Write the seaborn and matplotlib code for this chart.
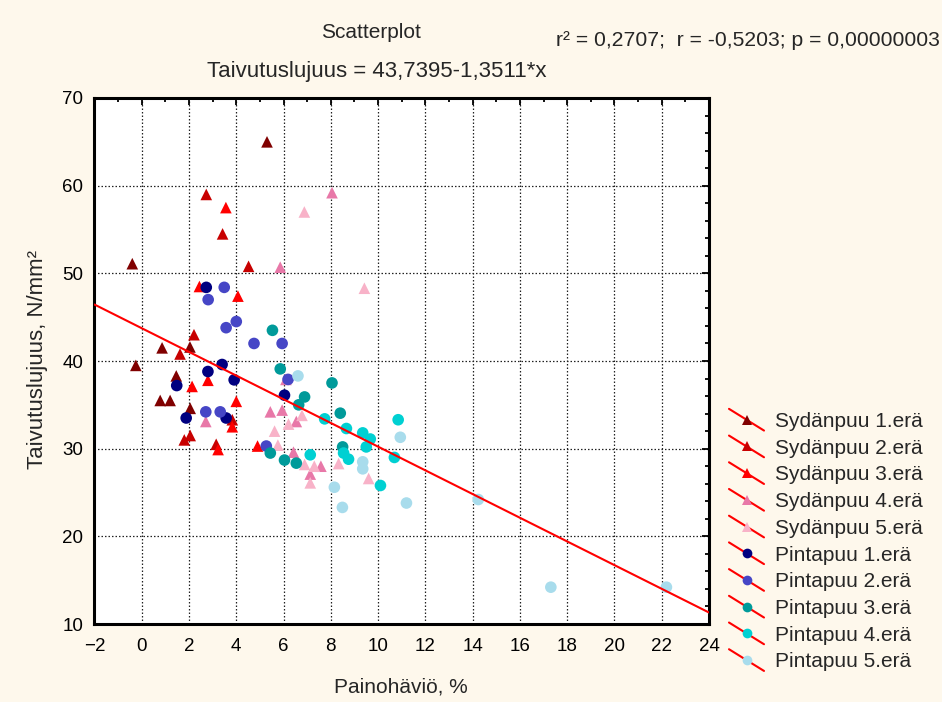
import numpy as np
import pandas as pd
import matplotlib
matplotlib.use("Agg")
import matplotlib.pyplot as plt
import seaborn as sns
from matplotlib.lines import Line2D
from matplotlib.legend_handler import HandlerBase
from matplotlib.ticker import MultipleLocator

# ---- data: weight loss (%) vs bending strength (N/mm2) per batch ----
syd1_x = [5.3, -0.4, -0.25, 0.86, 1.46, 0.78, 1.2, 2.05, 2.04]
syd1_y = [65.0, 51.1, 39.5, 41.5, 38.3, 35.5, 35.5, 34.6, 41.6]
syd2_x = [2.73, 3.42, 4.52, 2.21, 1.62, 1.8, 2.05, 3.15, 3.83]
syd2_y = [59.0, 54.5, 50.8, 43.0, 40.8, 31.0, 31.5, 30.5, 33.3]
syd3_x = [3.56, 4.07, 2.44, 2.8, 2.13, 4.0, 3.83, 3.23, 4.9]
syd3_y = [57.5, 47.4, 48.5, 37.8, 37.1, 35.4, 32.5, 29.9, 30.3]
syd4_x = [8.05, 5.86, 2.71, 5.44, 5.94, 6.54, 6.42, 7.13, 7.58, 6.1]
syd4_y = [59.2, 50.7, 33.1, 34.2, 34.4, 33.1, 29.6, 27.1, 28.0, 37.9]
syd5_x = [6.88, 9.42, 6.78, 6.21, 5.62, 5.76, 6.89, 7.3, 7.13, 8.33, 9.6]
syd5_y = [57.0, 48.3, 33.8, 32.8, 32.0, 30.4, 28.2, 28.0, 26.1, 28.3, 26.6]
pinta1_x = [2.73, 2.8, 3.4, 3.91, 1.48, 1.88, 3.57, 6.04]
pinta1_y = [48.4, 38.8, 39.6, 37.85, 37.2, 33.5, 33.5, 36.1]
pinta2_x = [2.81, 3.49, 4.0, 3.57, 4.75, 5.94, 2.71, 3.32, 6.19, 5.27]
pinta2_y = [47.0, 48.4, 44.5, 43.8, 42.0, 42.0, 34.2, 34.2, 37.9, 30.3]
pinta3_x = [5.53, 5.86, 6.89, 6.64, 5.44, 6.04, 6.54, 8.05, 8.4, 8.5]
pinta3_y = [43.5, 39.1, 35.9, 35.0, 29.5, 28.7, 28.35, 37.5, 34.05, 30.2]
pinta4_x = [7.74, 8.66, 9.35, 9.67, 9.5, 7.13, 8.54, 8.75, 10.85, 10.69, 10.1]
pinta4_y = [33.4, 32.3, 31.8, 31.1, 30.2, 29.3, 29.5, 28.8, 33.3, 29.0, 25.8]
pinta5_x = [6.61, 10.94, 9.35, 9.35, 8.15, 8.49, 11.2, 14.24, 17.31, 22.2]
pinta5_y = [38.3, 31.3, 28.5, 27.7, 25.6, 23.3, 23.8, 24.2, 14.2, 14.2]

groups = ["Sydänpuu 1.erä", "Sydänpuu 2.erä", "Sydänpuu 3.erä",
          "Sydänpuu 4.erä", "Sydänpuu 5.erä",
          "Pintapuu 1.erä", "Pintapuu 2.erä", "Pintapuu 3.erä",
          "Pintapuu 4.erä", "Pintapuu 5.erä"]
group_x = [syd1_x, syd2_x, syd3_x, syd4_x, syd5_x,
           pinta1_x, pinta2_x, pinta3_x, pinta4_x, pinta5_x]
group_y = [syd1_y, syd2_y, syd3_y, syd4_y, syd5_y,
           pinta1_y, pinta2_y, pinta3_y, pinta4_y, pinta5_y]

# linear fit reported for the whole data set
INTERCEPT = 43.7395
SLOPE = -1.3511
fit_x = np.array([-2.0, 24.0])

x_ticks = list(range(-2, 25, 2))
y_ticks = list(range(10, 71, 10))

# ---- styling ----
colors = ["#800000", "#C80000", "#FF0000", "#E878A8", "#F8B2C8",
          "#000080", "#4646C6", "#009A9A", "#00D0D2", "#A8DCEC"]
shapes = ["^"] * 5 + ["o"] * 5
palette = dict(zip(groups, colors))
markers = dict(zip(groups, shapes))
BG = "#FEF8EC"

sns.set_theme(style="white")
plt.rcParams["font.family"] = ["Liberation Sans", "DejaVu Sans"]

df = pd.concat(
    [pd.DataFrame({"x": gx, "y": gy, "group": g})
     for g, gx, gy in zip(groups, group_x, group_y)],
    ignore_index=True)

fig = plt.figure(figsize=(9.42, 7.02), dpi=100, facecolor=BG)
ax = fig.add_axes([0.1003, 0.1111, 0.6523, 0.7493])
ax.set_facecolor("white")

sns.scatterplot(data=df, x="x", y="y", hue="group", style="group",
                palette=palette, markers=markers, hue_order=groups,
                style_order=groups, s=70, linewidth=0, legend=False,
                ax=ax, zorder=3)

ax.plot(fit_x, INTERCEPT + SLOPE * fit_x, color="red", lw=1.5, zorder=4)

ax.set_xlim(-2, 24)
ax.set_ylim(10, 70)
ax.set_xticks(x_ticks)
ax.set_yticks(y_ticks)
ax.xaxis.set_minor_locator(MultipleLocator(1))
ax.yaxis.set_minor_locator(MultipleLocator(2))
ax.grid(True, which="major", color="#222222", linestyle=(0, (1.2, 1.6)),
        linewidth=0.9, zorder=1)
ax.set_axisbelow(True)
ax.tick_params(which="both", direction="in", top=True, right=True,
               width=1.3, color="black", labelsize=13.5, labelcolor="black")
ax.tick_params(which="major", length=5)
ax.tick_params(which="minor", length=3)
ax.tick_params(axis="x", pad=10)
ax.tick_params(axis="y", pad=8)
for sp in ax.spines.values():
    sp.set_visible(True)
    sp.set_color("black")
    sp.set_linewidth(2.2)
ax.set_xlabel("")
ax.set_ylabel("")

W, H = 942.0, 702.0
fig.text(401 / W, 1 - 687 / H, "Painohäviö, %", ha="center", va="center",
         fontsize=15)
fig.text(38 / W, 1 - 360 / H, "Taivutuslujuus, N/mm²", ha="center",
         va="center", rotation=90, fontsize=16)
fig.text(371 / W, 1 - 33 / H, "Scatterplot", ha="center", va="center",
         fontsize=15)
fig.text(377 / W, 1 - 72 / H, "Taivutuslujuus = 43,7395-1,3511*x",
         ha="center", va="center", fontsize=16)
fig.text(748 / W, 1 - 40 / H, "r² = 0,2707;  r = -0,5203; p = 0,00000003",
         ha="center", va="center", fontsize=15.2)


class SlopedHandler(HandlerBase):
    """Legend key: the fitted line drawn sloping down with the group marker."""

    def create_artists(self, legend, orig_handle, xdescent, ydescent,
                       width, height, fontsize, trans):
        x0 = -xdescent
        x1 = x0 + width
        yc = -ydescent + height / 2
        dy = 0.31 * width
        line = Line2D([x0, x1], [yc + dy, yc - dy], color="red", lw=1.5,
                      transform=trans)
        mk = Line2D([(x0 + x1) / 2], [yc], marker=orig_handle.get_marker(),
                    color=orig_handle.get_color(), markersize=7,
                    markeredgewidth=0, linestyle="", transform=trans)
        return [line, mk]


handles = [Line2D([], [], marker=markers[g], color=palette[g], linestyle="")
           for g in groups]
fig.legend(handles, groups, handler_map={Line2D: SlopedHandler()},
           loc="upper left", bbox_to_anchor=(729 / W, 1 - 412 / H),
           frameon=False, fontsize=15, handlelength=1.68,
           handletextpad=0.53, labelspacing=0.37, borderaxespad=0,
           borderpad=0)

fig.savefig("out.png", dpi=100, facecolor=BG)
